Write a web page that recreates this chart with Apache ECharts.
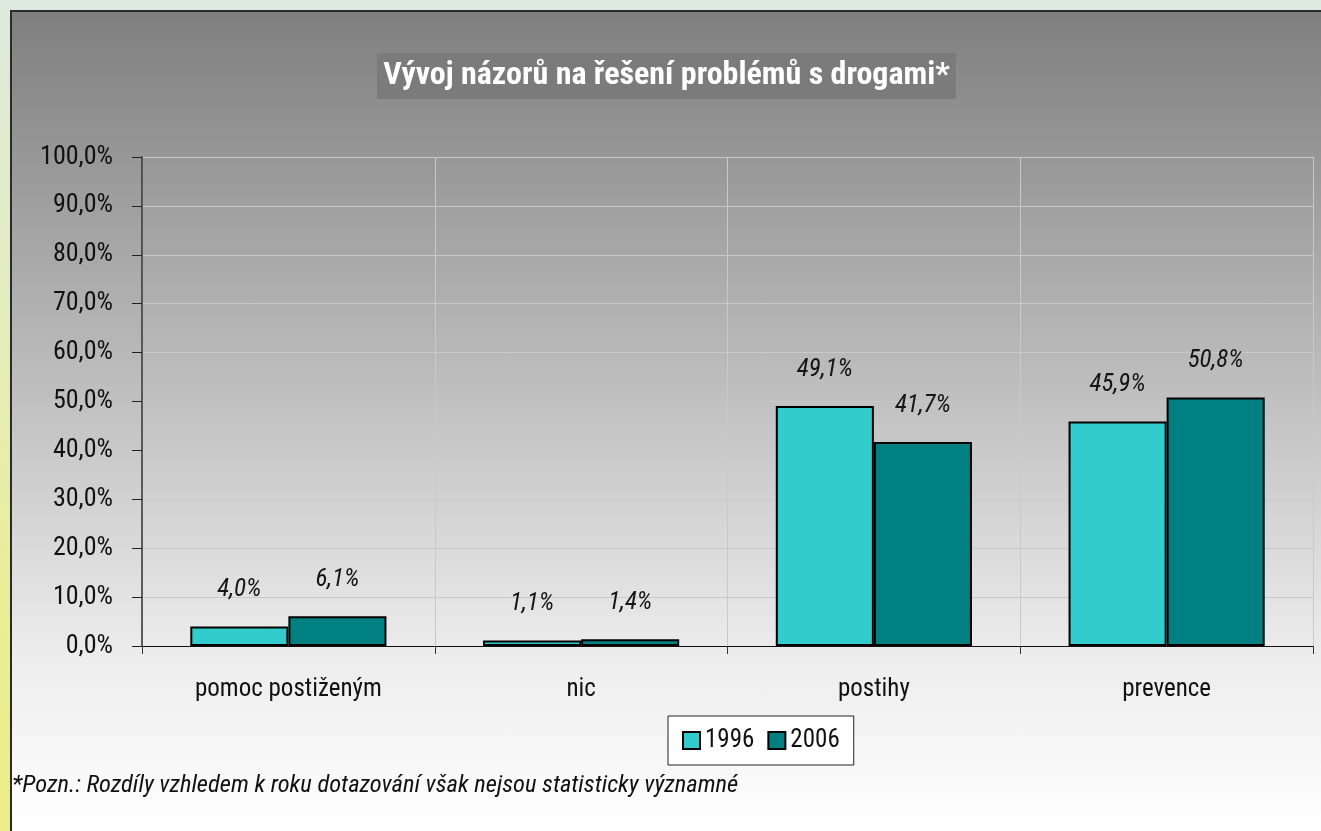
<!DOCTYPE html>
<html>
<head>
<meta charset="utf-8">
<script src="https://cdn.jsdelivr.net/npm/echarts@6/dist/echarts.min.js"></script>
<style>
  html, body { margin: 0; padding: 0; }
  body {
    width: 1321px; height: 831px; overflow: hidden; position: relative;
    background: linear-gradient(180deg, #dde9dd 0%, #e3ecc0 35%, #eaee94 75%, #ecec88 100%);
  }
  #frame {
    position: absolute; left: 10px; top: 10px; width: 1311px; height: 821px;
    box-sizing: border-box; border-left: 2px solid #2b2b2b; border-top: 2px solid #2b2b2b;
    background: linear-gradient(180deg, #7f7f7f 0%, #bdbdbd 45%, #ececec 78%, #ffffff 100%);
  }
  #chart { width: 1309px; height: 819px; }
</style>
</head>
<body>
<div id="frame"><div id="chart"></div></div>
<script>
// data
const categories = ['pomoc postiženým', 'nic', 'postihy', 'prevence'];
const values1996 = [4.0, 1.1, 49.1, 45.9];
const values2006 = [6.1, 1.4, 41.7, 50.8];
const years = ['1996', '2006'];

const fontFam = '"Roboto Condensed", "Liberation Sans", Arial, sans-serif';
const pct = v => v.toFixed(1).replace('.', ',') + '%';

var chart = echarts.init(document.getElementById('chart'));

const barLabel = {
  show: true, position: 'top', distance: 24,
  fontSize: 25, fontStyle: 'italic', color: '#151515', fontFamily: fontFam,
  formatter: p => pct(p.value)
};

chart.setOption({
  backgroundColor: 'transparent',
  title: {
    text: 'Vývoj názorů na řešení problémů s drogami*',
    left: 'center',
    top: 41,
    padding: [7, 6],
    backgroundColor: '#7b7b7b',
    textStyle: { color: '#fff', fontSize: 32, fontWeight: 'bold', fontFamily: fontFam }
  },
  legend: {
    left: 656,
    top: 704,
    padding: [12, 14],
    backgroundColor: '#fff',
    borderColor: '#222',
    borderWidth: 1,
    itemWidth: 17,
    itemHeight: 17,
    itemGap: 13,
    icon: 'rect',
    textStyle: { fontSize: 25, color: '#111', fontFamily: fontFam },
    data: years
  },
  grid: { left: 130, right: 8, top: 145, bottom: 185 },
  xAxis: {
    type: 'category',
    data: categories,
    axisLine: { lineStyle: { color: '#111', width: 1 } },
    axisTick: { show: true, length: 8, lineStyle: { color: '#333' } },
    axisLabel: { color: '#111', fontSize: 25, fontFamily: fontFam, margin: 31 },
    splitLine: { show: true, lineStyle: { color: '#c9c9c9', width: 1 } }
  },
  yAxis: {
    type: 'value',
    min: 0,
    max: 100,
    interval: 10,
    axisLine: { show: true, lineStyle: { color: '#333', width: 1.5 } },
    axisTick: { show: true, length: 10, lineStyle: { color: '#222' } },
    axisLabel: { color: '#111', fontSize: 26, fontFamily: fontFam, margin: 29, formatter: pct },
    splitLine: { show: true, lineStyle: { color: '#c9c9c9', width: 1 } }
  },
  series: [
    {
      name: years[0],
      type: 'bar',
      data: values1996,
      barGap: '0%',
      barCategoryGap: '33%',
      itemStyle: { color: '#33cccc', borderColor: '#000', borderWidth: 2 },
      label: barLabel
    },
    {
      name: years[1],
      type: 'bar',
      data: values2006,
      barGap: '0%',
      barCategoryGap: '33%',
      itemStyle: { color: '#008080', borderColor: '#000', borderWidth: 2 },
      label: barLabel
    }
  ],
  graphic: [
    {
      type: 'text',
      left: 0,
      top: 761,
      style: {
        text: '*Pozn.: Rozdíly vzhledem k roku dotazování však nejsou statisticky významné',
        font: 'italic 24.5px ' + fontFam,
        fill: '#111'
      }
    }
  ]
});
</script>
</body>
</html>
